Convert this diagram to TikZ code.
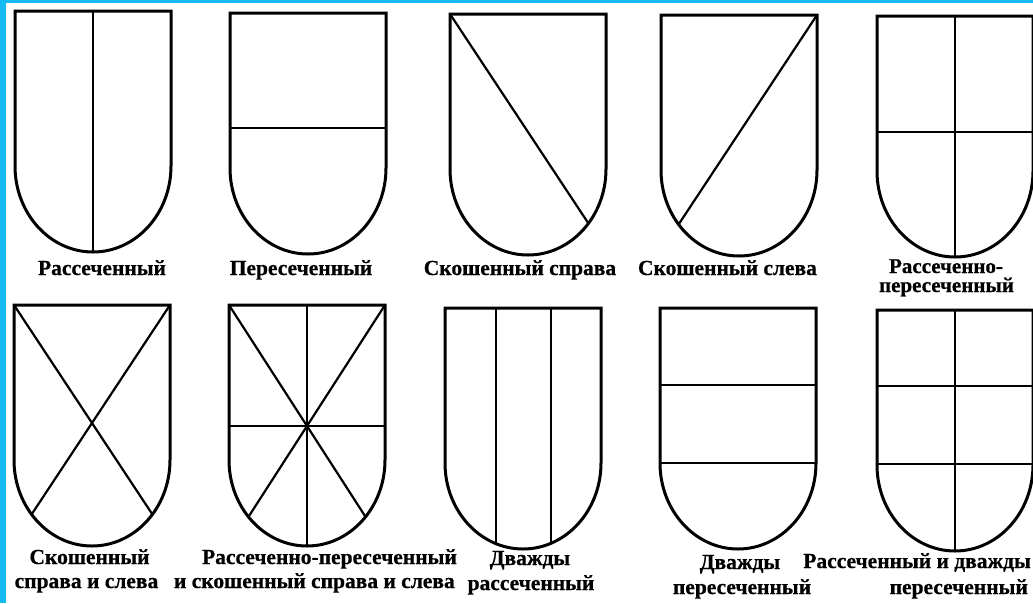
\documentclass[tikz,border=0pt]{standalone}
\usepackage{fontspec}
\setmainfont{Liberation Serif}
\newfontfamily\lblfont{Liberation Serif Bold}[FakeBold=0.6]
\definecolor{framecol}{RGB}{22,186,240}
\begin{document}
\begin{tikzpicture}[x=1pt,y=-1pt,
  shieldp/.style={insert path={(0,0) -- (156,0) -- (156,155) .. controls (156,202.5) and (121.1,241) .. (78,241) .. controls (34.9,241) and (0,202.5) .. (0,155) -- cycle}},
  outline/.style={draw=black, line width=3pt, line join=miter},
  divline/.style={draw=black, line width=2.2pt},
  lbl/.style={font=\lblfont\fontsize{21.5}{21.5}\selectfont, inner sep=0pt, anchor=base},
  lblsmall/.style={lbl, font=\lblfont\fontsize{21}{21}\selectfont}]
\fill[white] (0,0) rectangle (1033,603);
\useasboundingbox (0,0) rectangle (1033,603);
\fill[framecol] (0,0) rectangle (6,603);
\fill[framecol] (0,0) rectangle (1033,3);

% 1 Рассеченный
\begin{scope}[shift={(15,11)}]
  \begin{scope}\path[clip,shieldp];
    \draw[divline] (78,-5) -- (78,300);
  \end{scope}
  \path[outline,shieldp];
\end{scope}
% 2 Пересеченный
\begin{scope}[shift={(230,13)}]
  \begin{scope}\path[clip,shieldp];
    \draw[divline] (-5,115) -- (161,115);
  \end{scope}
  \path[outline,shieldp];
\end{scope}
% 3 Скошенный справа
\begin{scope}[shift={(450,14)}]
  \begin{scope}\path[clip,shieldp];
    \draw[divline] (0,0) -- (195,295);
  \end{scope}
  \path[outline,shieldp];
\end{scope}
% 4 Скошенный слева
\begin{scope}[shift={(661,15)}]
  \begin{scope}\path[clip,shieldp];
    \draw[divline] (156,0) -- (-39,295);
  \end{scope}
  \path[outline,shieldp];
\end{scope}
% 5 Рассеченно-пересеченный
\begin{scope}[shift={(877,16)}]
  \begin{scope}\path[clip,shieldp];
    \draw[divline] (78,-5) -- (78,300);
    \draw[divline] (-5,116) -- (161,116);
  \end{scope}
  \path[outline,shieldp];
\end{scope}
% 6 Скошенный справа и слева
\begin{scope}[shift={(14,305)}]
  \begin{scope}\path[clip,shieldp];
    \draw[divline] (0,0) -- (195,295);
    \draw[divline] (156,0) -- (-39,295);
  \end{scope}
  \path[outline,shieldp];
\end{scope}
% 7 Рассеченно-пересеченный и скошенный
\begin{scope}[shift={(229,305)}]
  \begin{scope}\path[clip,shieldp];
    \draw[divline] (0,0) -- (195,302.5);
    \draw[divline] (156,0) -- (-39,302.5);
    \draw[divline] (78,-5) -- (78,300);
    \draw[divline] (-5,121) -- (161,121);
  \end{scope}
  \path[outline,shieldp];
\end{scope}
% 8 Дважды рассеченный
\begin{scope}[shift={(445,308)}]
  \begin{scope}\path[clip,shieldp];
    \draw[divline] (51,-5) -- (51,300);
    \draw[divline] (106,-5) -- (106,300);
  \end{scope}
  \path[outline,shieldp];
\end{scope}
% 9 Дважды пересеченный
\begin{scope}[shift={(660,308)}]
  \begin{scope}\path[clip,shieldp];
    \draw[divline] (-5,77) -- (161,77);
    \draw[divline] (-5,155) -- (161,155);
  \end{scope}
  \path[outline,shieldp];
\end{scope}
% 10 Рассеченный и дважды пересеченный
\begin{scope}[shift={(877,310)}]
  \begin{scope}\path[clip,shieldp];
    \draw[divline] (78,-5) -- (78,300);
    \draw[divline] (-5,76) -- (161,76);
    \draw[divline] (-5,154) -- (161,154);
  \end{scope}
  \path[outline,shieldp];
\end{scope}

% labels
\node[lbl] (l1) at (102,275) {Рассеченный};
\node[lbl] (l2) at (301,275) {Пересеченный};
\node[lbl] (l3) at (520,275) {Скошенный справа};
\node[lbl] (l4) at (727.5,275) {Скошенный слева};
\node[lblsmall] (l5a) at (946,273) {Рассеченно-};
\node[lblsmall] (l5b) at (946.5,292) {пересеченный};
\node[lbl] (l6a) at (89.5,564) {Скошенный};
\node[lbl] (l6b) at (86.5,588) {справа и слева};
\node[lbl, anchor=base east] (l7a) at (457,564) {Рассеченно-пересеченный};
\node[lbl, anchor=base east] (l7b) at (455,588) {и скошенный справа и слева};
\node[lbl] (l8a) at (530,565) {Дважды};
\node[lbl] (l8b) at (531,590) {рассеченный};
\node[lbl] (l9a) at (740,569) {Дважды};
\node[lbl] (l9b) at (742,594) {пересеченный};
\node[lbl, anchor=base east] (l10a) at (1031,568) {Рассеченный и дважды};
\node[lbl, anchor=base east] (l10b) at (1028,594) {пересеченный};
\end{tikzpicture}
\end{document}
